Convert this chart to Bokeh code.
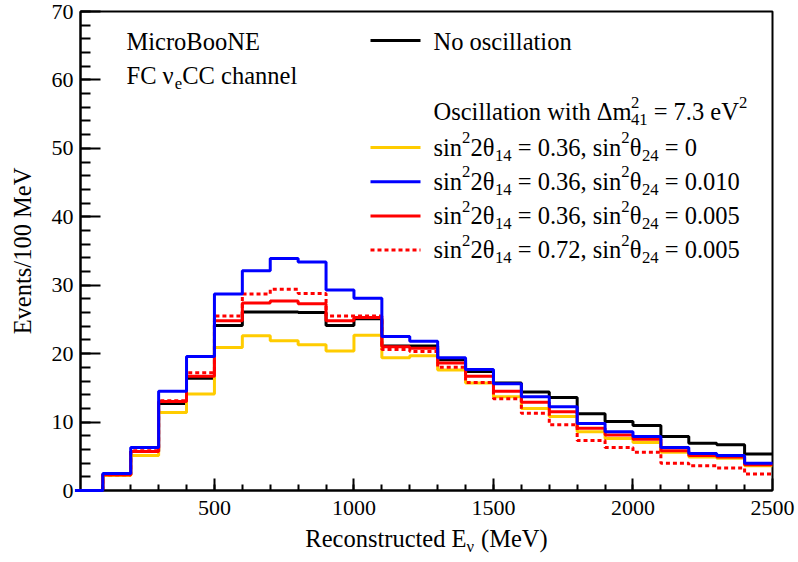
from bokeh.plotting import figure
from bokeh.layouts import column
from bokeh.models import Range1d, Label, FixedTicker
from bokeh.embed import file_html
from bokeh.resources import INLINE

# Reconstructed neutrino energy bins (MeV): 0-100, 100-200, ..., 2400-2500
bin_edges = list(range(0, 2600, 100))

# Events per 100 MeV in each bin
no_osc = [0, 2.3, 5.7, 12.7, 16.4, 24.1, 26.1, 26.1, 26.0, 24.1, 25.1,
          21.1, 21.1, 19.1, 17.4, 15.7, 14.4, 13.6, 11.2, 10.1, 9.5,
          7.9, 6.9, 6.7, 5.35]
osc_036_0 = [0, 2.2, 5.1, 11.4, 14.1, 20.9, 22.6, 21.9, 21.3, 20.4, 22.7,
             19.4, 19.7, 17.6, 15.7, 13.7, 12.0, 10.8, 8.6, 7.6, 7.0,
             5.6, 4.9, 4.7, 3.6]
osc_036_0010 = [0, 2.5, 6.3, 14.5, 19.6, 28.7, 32.1, 33.9, 33.4, 29.3, 28.1,
                22.5, 21.8, 19.4, 17.7, 15.6, 13.7, 12.25, 9.8, 8.6, 7.9,
                6.3, 5.4, 5.1, 4.0]
osc_036_0005 = [0, 2.3, 5.7, 13.0, 16.7, 24.8, 27.4, 27.7, 27.3, 24.8, 25.3,
                21.0, 20.8, 18.65, 16.7, 14.5, 12.9, 11.5, 9.1, 8.1, 7.5,
                5.8, 5.1, 4.9, 3.75]
osc_072_0005 = [0, 2.3, 5.8, 13.1, 17.2, 25.5, 28.7, 29.4, 28.8, 25.5, 25.5,
                20.6, 20.3, 18.0, 15.8, 13.4, 11.3, 9.6, 7.3, 6.3, 5.6,
                4.0, 3.6, 3.3, 2.4]

x_ticks = [500, 1000, 1500, 2000, 2500]
y_ticks = [0, 10, 20, 30, 40, 50, 60, 70]

X_START, X_END = 20, 2500
Y_START, Y_END = 0, 70

FONT = "Liberation Serif"
AXIS_FONT = "'Liberation Serif'"
TEXT_PX = 24.5
TICK_PX = "22px"
BLACK, GOLD, BLUE, RED = "#000000", "#ffcc00", "#0000ff", "#ff0000"

W, H = 798, 562
STRIP_H = 40                      # strip under the plot holding the x title
MAIN_H = H - STRIP_H
FRAME_L, FRAME_R, FRAME_T, FRAME_B = 80, 772, 11, 490

p = figure(width=W, height=MAIN_H, output_backend="svg", toolbar_location=None,
           x_range=Range1d(X_START, X_END), y_range=Range1d(Y_START, Y_END),
           min_border_left=FRAME_L, min_border_right=W - FRAME_R,
           min_border_top=FRAME_T, min_border_bottom=MAIN_H - FRAME_B)
p.background_fill_color = "white"
p.border_fill_color = "white"
p.outline_line_color = "black"
p.outline_line_width = 2
p.xgrid.visible = False
p.ygrid.visible = False

# ROOT-style inward ticks
p.axis.axis_line_width = 2
p.axis.axis_line_color = "black"
p.axis.major_tick_out = 0
p.axis.minor_tick_out = 0
p.axis.major_tick_line_width = 2
p.axis.minor_tick_line_width = 2
p.axis.major_tick_line_color = "black"
p.axis.minor_tick_line_color = "black"
p.axis.major_label_text_font = AXIS_FONT
p.axis.major_label_text_font_size = TICK_PX
p.axis.major_label_text_color = "black"

p.xaxis.ticker = FixedTicker(ticks=x_ticks, minor_ticks=list(range(100, 2500, 100)))
p.xaxis.major_tick_in = 12
p.xaxis.minor_tick_in = 6
p.xaxis.major_label_standoff = 10

p.yaxis.ticker = FixedTicker(ticks=y_ticks, minor_ticks=list(range(0, 72, 2)))
p.yaxis.major_tick_in = 20
p.yaxis.minor_tick_in = 10
p.yaxis.major_label_standoff = 7
p.yaxis.axis_label = "Events/100 MeV"
p.yaxis.axis_label_text_font = AXIS_FONT
p.yaxis.axis_label_text_font_size = f"{TEXT_PX}px"
p.yaxis.axis_label_text_font_style = "normal"
p.yaxis.axis_label_text_color = "black"
p.yaxis.axis_label_standoff = 13


def closed(vals):
    return list(vals) + [vals[-1]]


p.step(bin_edges, closed(no_osc), mode="after", line_color=BLACK, line_width=3)
p.step(bin_edges, closed(osc_036_0), mode="after", line_color=GOLD, line_width=3)
p.step(bin_edges, closed(osc_036_0005), mode="after", line_color=RED, line_width=3)
p.step(bin_edges, closed(osc_072_0005), mode="after", line_color=RED, line_width=3,
       line_dash="4 3")
# the blue curve sits on top of everything, including the frame's bottom edge
p.step(bin_edges, closed(osc_036_0010), mode="after", line_color=BLUE, line_width=3,
       level="overlay")

# strip below the plot for the x title
strip = figure(width=W, height=STRIP_H, output_backend="svg", toolbar_location=None,
               x_range=Range1d(0, W), y_range=Range1d(0, STRIP_H),
               x_axis_type=None, y_axis_type=None, min_border=0)
strip.outline_line_color = None
strip.background_fill_color = "white"
strip.border_fill_color = "white"
strip.xgrid.visible = False
strip.ygrid.visible = False

# ---- text with sub/superscripts, laid out with Times-metric advances ----
ADV = {' ': .25, ',': .25, '.': .25, '=': .564, '(': .333, ')': .333, '/': .278,
       'a': .444, 'b': .5, 'c': .444, 'd': .5, 'e': .444, 'f': .333, 'g': .5,
       'h': .5, 'i': .278, 'j': .278, 'k': .5, 'l': .278, 'm': .778, 'n': .5,
       'o': .5, 'p': .5, 'q': .5, 'r': .333, 's': .389, 't': .278, 'u': .5,
       'v': .5, 'w': .722, 'x': .5, 'y': .5, 'z': .444,
       'B': .667, 'C': .667, 'E': .611, 'F': .556, 'M': .889, 'N': .722,
       'O': .722, 'R': .667, 'V': .722, 'θ': .5, 'ν': .5, 'Δ': .612}
for d in "0123456789":
    ADV[d] = .5

SMALL = 0.68
SUP_RISE = 0.38
SUB_DROP = 0.33


def width(s, size):
    return sum(ADV.get(ch, .5) for ch in s) * size


def to_data(px, py):
    x = X_START + (px - FRAME_L) / (FRAME_R - FRAME_L) * (X_END - X_START)
    y = Y_END - (py - FRAME_T) / (FRAME_B - FRAME_T) * (Y_END - Y_START)
    return x, y


def put(fig, top, px, py, s, size):
    # SVG drops leading/trailing blanks, so advance past them by hand
    lead = len(s) - len(s.lstrip(" "))
    px += width(" " * lead, size)
    s = s.strip(" ")
    if not s:
        return
    fig.add_layout(Label(x=px, y=py - top, x_units="canvas", y_units="canvas",
                         text=s, text_font=FONT,
                         text_font_size=f"{size:.1f}px", text_color="black",
                         text_align="left", text_baseline="alphabetic"))


def rich_width(parts, size=TEXT_PX):
    w = 0
    for kind, s in parts:
        if kind == "n":
            w += width(s, size)
        elif kind in ("sup", "sub"):
            w += width(s, size * SMALL)
        else:
            w += max(width(s[0], size * SMALL), width(s[1], size * SMALL))
    return w


def rich(px, py, parts, fig=p, top=0, size=TEXT_PX):
    small = size * SMALL
    for kind, s in parts:
        if kind == "n":
            put(fig, top, px, py, s, size)
            px += width(s, size)
        elif kind == "sup":
            put(fig, top, px, py - size * SUP_RISE, s, small)
            px += width(s, small)
        elif kind == "sub":
            put(fig, top, px, py + size * SUB_DROP, s, small)
            px += width(s, small)
        else:
            put(fig, top, px, py - size * SUP_RISE, s[0], small)
            put(fig, top, px, py + size * SUB_DROP, s[1], small)
            px += max(width(s[0], small), width(s[1], small))


def mixing(s14, s24):
    return [("n", "sin"), ("sup", "2"), ("n", "2θ"), ("sub", "14"),
            ("n", f" = {s14}, sin"), ("sup", "2"), ("n", "θ"), ("sub", "24"),
            ("n", f" = {s24}")]


# top-left labels
rich(126, 41, [("n", "MicroBooNE")])
rich(126, 75, [("n", "FC ν"), ("sub", "e"), ("n", "CC channel")])

# legend
LEG_LINE_X0, LEG_LINE_X1, LEG_TEXT_X = 370, 420, 433


def swatch(py, color, dash="solid"):
    x0, y0 = to_data(LEG_LINE_X0, py)
    x1, _ = to_data(LEG_LINE_X1, py)
    p.line([x0, x1], [y0, y0], line_color=color, line_width=3, line_dash=dash)


swatch(40, BLACK)
rich(LEG_TEXT_X, 41, [("n", "No oscillation")])
rich(LEG_TEXT_X, 111, [("n", "Oscillation with Δm"), ("stack", ("2", "41")),
                       ("n", " = 7.3 eV"), ("sup", "2")])

rows = [(GOLD, "solid", "0.36", "0"),
        (BLUE, "solid", "0.36", "0.010"),
        (RED, "solid", "0.36", "0.005"),
        (RED, "4 3", "0.72", "0.005")]
for i, (color, dash, s14, s24) in enumerate(rows):
    base = 146.5 + i * 34.2
    swatch(base + 0.5, color, dash)
    rich(LEG_TEXT_X, base, mixing(s14, s24))

# x-axis title, centred under the frame
xt = [("n", "Reconstructed E"), ("sub", "ν"), ("n", " (MeV)")]
rich((FRAME_L + FRAME_R) / 2 - rich_width(xt) / 2, 538, xt, fig=strip, top=MAIN_H)

layout = column(p, strip, spacing=0)
open("out.html", "w").write(file_html(layout, INLINE))
